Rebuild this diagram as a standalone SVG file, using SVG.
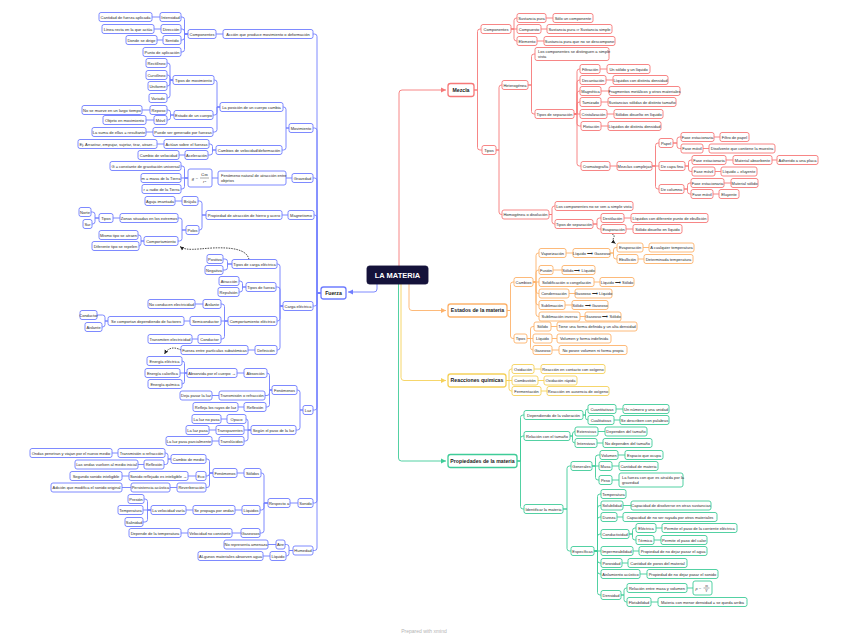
<svg xmlns="http://www.w3.org/2000/svg" width="848" height="638" viewBox="0 0 848 638">
<defs>
<style>
text{font-family:"Liberation Sans",Arial,sans-serif;font-size:4px;fill:#2a2a2a;text-anchor:middle}
text.l{text-anchor:start}
rect{fill:#fff;stroke-width:0.9}
.b rect{stroke:#6f7dff}
.r rect{stroke:#f67878}
.o rect{stroke:#fdb26b}
.y rect{stroke:#f5d15a}
.g rect{stroke:#3fcc98}
.m rect{stroke-width:1.3}
.m text{font-weight:bold;font-size:5.2px;fill:#1a1a1a}
#center rect{fill:#14123a;stroke:#14123a}
#center text{fill:#fff;font-weight:bold;font-size:7.5px}
.cb{fill:none;stroke:#6f7dff;stroke-width:0.9}
.cr{fill:none;stroke:#f67878;stroke-width:0.9}
.co{fill:none;stroke:#fdb26b;stroke-width:0.9}
.cy{fill:none;stroke:#f5d15a;stroke-width:0.9}
.cg{fill:none;stroke:#3fcc98;stroke-width:0.9}
.dash{fill:none;stroke:#222;stroke-width:0.8;stroke-dasharray:1.6 1}
.fl{stroke:#2a2a2a;stroke-width:0.4}
</style>
<marker id="ab" markerUnits="userSpaceOnUse" markerWidth="6" markerHeight="6" refX="5" refY="3" orient="auto"><path d="M0,0.5L5,3L0,5.5z" fill="#6f7dff"/></marker>
<marker id="ar" markerUnits="userSpaceOnUse" markerWidth="6" markerHeight="6" refX="5" refY="3" orient="auto"><path d="M0,0.5L5,3L0,5.5z" fill="#f67878"/></marker>
<marker id="ao" markerUnits="userSpaceOnUse" markerWidth="6" markerHeight="6" refX="5" refY="3" orient="auto"><path d="M0,0.5L5,3L0,5.5z" fill="#fdb26b"/></marker>
<marker id="ay" markerUnits="userSpaceOnUse" markerWidth="6" markerHeight="6" refX="5" refY="3" orient="auto"><path d="M0,0.5L5,3L0,5.5z" fill="#f5d15a"/></marker>
<marker id="ag" markerUnits="userSpaceOnUse" markerWidth="6" markerHeight="6" refX="5" refY="3" orient="auto"><path d="M0,0.5L5,3L0,5.5z" fill="#3fcc98"/></marker>
<marker id="ak" markerUnits="userSpaceOnUse" markerWidth="5" markerHeight="5" refX="4" refY="2.5" orient="auto"><path d="M0,0.5L4,2.5L0,4.5z" fill="#222"/></marker>
</defs>

<g id="connectors">
<path class="cb" d="M377 284V289Q377 292 374 292H348" marker-end="url(#ab)"/>
<path class="cr" d="M399 266V93Q399 90 402 90H446" marker-end="url(#ar)"/>
<path class="co" d="M409 284V307.5Q409 310.5 412 310.5H446" marker-end="url(#ao)"/>
<path class="cy" d="M401 284V377.5Q401 380.5 404 380.5H446" marker-end="url(#ay)"/>
<path class="cg" d="M398.5 284V458Q398.5 461 401.5 461H446" marker-end="url(#ag)"/>

<path class="cb" d="M321 293H317V36.5Q317 34 314.5 34H313M321 293H317V130.5Q317 128 314.5 128H313M321 293H317V180.5Q317 178 314.5 178H313M321 293H317V217.5Q317 215 314.5 215H314M321 293H317V303.5Q317 306 314.5 306H313M321 293H317V407.5Q317 410 314.5 410H313M321 293H317V500.5Q317 503 314.5 503H313M321 293H317V548Q317 550.5 314.5 550.5H313
M223 34H216M188 34H184.5V19.5Q184.5 17 182 17H181M188 34H184.5V31.5Q184.5 29 182 29H181M188 34H184.5V37.5Q184.5 40 182 40H181M188 34H184.5V49.5Q184.5 52 182 52H181M160 17H152M161 29H154M163 40H157
M289 128H286V109.5Q286 107 283.5 107H283M289 128H286V147.5Q286 150 283.5 150H282
M220 107H217V82.5Q217 80 214.5 80H214M220 107H217V112.5Q217 115 214.5 115H213M220 107H217V129.5Q217 132 214.5 132H213
M173 80H170V65.5Q170 63 167.5 63H167M173 80H170V77.5Q170 75 167.5 75H167M173 80H170V83.5Q170 86 167.5 86H167M173 80H170V95.5Q170 98 167.5 98H167
M174 115H170.5V112.5Q170.5 110 168 110H167M174 115H170.5V117.5Q170.5 120 168 120H167M150 110H142M154 120H146M153 132H146
M216 150H212.5V146.5Q212.5 144 210 144H209M216 150H212.5V152.5Q212.5 155 210 155H208M164 144H157M185 155H179
M292 178H286M218 178H212M188 178H184.5V168.5Q184.5 166 182 166H181M188 178H181M188 178H184.5V186.5Q184.5 189 182 189H181
M288 215H282M206 215H202V203.5Q202 201 199.5 201H198M206 215H202V227.5Q202 230 199.5 230H199M182 201H175
M186 230H182V220.5Q182 218 179.5 218H178M186 230H182V238.5Q182 241 179.5 241H178M120 218H113
M99 218H95V214.5Q95 212 92.5 212H91M99 218H95V221.5Q95 224 92.5 224H92
M144 241H141V237.5Q141 235 138.5 235H138M144 241H141V243.5Q141 246 139 246
M283 306H280V266.5Q280 264 277.5 264H277M283 306H280V289.5Q280 287 277.5 287H276M283 306H280V318.5Q280 321 277.5 321H277M283 306H280V347.5Q280 350 277.5 350H277
M232 264H227.5V261.5Q227.5 259 225 259H223M232 264H227.5V267.5Q227.5 270 225 270H223
M246 287H242.5V283.5Q242.5 281 240 281H239M246 287H242.5V289.5Q242.5 292 240 292H239
M228 321H224.5V306.5Q224.5 304 222 304H221M228 321H221M228 321H224.5V336.5Q224.5 339 222 339H221M203 304H195M190 321H184M198 339H192
M108 321H105V317.5Q105 315 102.5 315H97M108 321H105V324.5Q105 327 102.5 327H102M255 350H248
M303 410H300V392.5Q300 390 297.5 390H297M303 410H300V427.5Q300 430 297.5 430H296
M272 390H269.5V375.5Q269.5 373 267 373M272 390H269.5V393Q269.5 395.5 267 395.5H265M272 390H269.5V404.5Q269.5 407 267 407H266M244 373H237
M187 373H184.5V363.5Q184.5 361 182 361M187 373H180M187 373H184.5V381.5Q184.5 384 182 384M219 395.5H212M244 407H238
M251 430H248V421.5Q248 419 246 419M251 430H244M251 430H248V438.5Q248 441 245.5 441H244M227 419H221M216 430H209M219 441H212
M298 503H290M268 503H264V475.5Q264 473 261.5 473H261M268 503H264V507.5Q264 510 261.5 510H260M268 503H264V530.5Q264 533 261.5 533H260M244 473H237
M213 473H209.5V461.5Q209.5 459 207 459H206M213 473H209.5V473.5Q209.5 476 207 476H206M213 473H209.5V485Q209.5 487.5 207 487.5H206
M171 459H168V455.5Q168 453 165.5 453H165M171 459H168V462Q168 464.5 165.5 464.5H164M118 453H112M144 464.5H138
M196 476H188M129 476H122M177 487.5H170M131 487.5H122M242 510H235M193 510H186
M151 510H147.5V501.5Q147.5 499 145 499H144M151 510H143M151 510H147.5V519.5Q147.5 522 145 522H143
M241 533H232M188 533H181
M293 550.5H289V547Q289 544.5 286.5 544.5H285M293 550.5H289V553.5Q289 556 286.5 556H286M276 544.5H268M270 556H263"/>

<path class="cr" d="M474 90H477.5V31.5Q477.5 29 480 29H481M474 90H477.5V147.5Q477.5 150 480 150H482
M511 29H514V20.5Q514 18 516.5 18H517M511 29H517M511 29H514V38.5Q514 41 516.5 41H517M546 18H553M541 29H547M537 41H544
M496 150H499V87.5Q499 85 501.5 85H502M496 150H499V212Q499 214.5 501.5 214.5H502
M528 85H531.5V56.5Q531.5 54 534 54H535M528 85H531.5V111.5Q531.5 114 534 114H535
M574 114H577V71.5Q577 69 579.5 69H580M574 114H577V82.5Q577 80 579.5 80H580M574 114H577V93.5Q577 91 579.5 91H580M574 114H577V104.5Q577 102 579.5 102H580M574 114H580M574 114H577V123.5Q577 126 579.5 126H581M574 114H577V163.5Q577 166 579.5 166H581
M600 69H607M606 80H613M601 91H609M601 102H608M607 114H614M601 126H608M610 166H617
M652 166H655.5V145.5Q655.5 143 658 143H659M652 166H659M652 166H655.5V186.5Q655.5 189 658 189H659
M673 143H677V139.5Q677 137 679.5 137H681M673 143H677V146Q677 148.5 679.5 148.5H681M714 137H720M703 148.5H709
M685 166H688.5V162.5Q688.5 160 691 160H692M685 166H688.5V169Q688.5 171.5 691 171.5H692M726 160H733M772 160H777M715 171.5H721
M684 189H687.5V185.5Q687.5 183 690 183H691M684 189H687.5V191.5Q687.5 194 690 194H691M724 183H731M713 194H719
M549 214.5H552V208.5Q552 206 554.5 206H555M549 214.5H552V221.5Q552 224 554.5 224H555
M593 224H597V220.5Q597 218 599.5 218H601M593 224H597V226.5Q597 229 599.5 229H601M624 218H631M626 229H633"/>

<path class="co" d="M507 310.5H510.5V284.5Q510.5 282 513 282H514M507 310.5H510.5V336Q510.5 338.5 513 338.5H514
M533 282H536V255.5Q536 253 538.5 253H539M533 282H536V272.5Q536 270 538.5 270H539M533 282H539M533 282H536V291Q536 293.5 538.5 293.5H539M533 282H536V302.5Q536 305 538.5 305H539M533 282H536V314Q536 316.5 538.5 316.5H539
M566 253H573M553 270H562M594 282H600M569 293.5H575M565 305H572M580 316.5H585
M610 253H613.5V250Q613.5 247.5 616 247.5H617M610 253H613.5V256.5Q613.5 259 616 259H617M643 247.5H649M638 259H644
M527 338.5H530.5V329Q530.5 326.5 533 326.5H534M527 338.5H533M527 338.5H530.5V347.5Q530.5 350 533 350
M551 326.5H557M552 338.5H557M552 350H559"/>

<path class="cy" d="M506 380.5H509V371.5Q509 369 511.5 369H512M506 380.5H512M506 380.5H509V388.5Q509 391 511.5 391H512M534 369H541M538 380.5H544M541 391H547"/>

<path class="cg" d="M517 461H520.5V417.5Q520.5 415 523 415H524M517 461H520.5V438.5Q520.5 436 523 436H524M517 461H520.5V506.5Q520.5 509 523 509H524
M583 415H585.5V411.5Q585.5 409 588 409M583 415H585.5V417.5Q585.5 420 588 420M616 409H623M614 420H620
M570 436H572.5V434Q572.5 431.5 575 431.5M570 436H572.5V440.5Q572.5 443 575 443M598 431.5H605M597 443H603
M563 509H567V468.5Q567 466 569.5 466H571M563 509H567V548.5Q567 551 569.5 551H571
M592 466H595.5V457.5Q595.5 455 598 455H600M592 466H599M592 466H595.5V477.5Q595.5 480 598 480H599M618 455H625M612 466H619M612 480H619
M594 551H597.5V496.5Q597.5 494 600 494H601M594 551H597.5V508Q597.5 505.5 600 505.5H601M594 551H597.5V519.5Q597.5 517 600 517H601M594 551H597.5V536.5Q597.5 534 600 534H601M594 551H601M594 551H597.5V560.5Q597.5 563 600 563H601M594 551H597.5V571.5Q597.5 574 600 574H601M594 551H597.5V592.5Q597.5 595 600 595H601
M623 505.5H631M617 517H623M633 551H639M622 563H628M640 574H647
M629 534H632.5V530.5Q632.5 528 635 528H636M629 534H632.5V537.5Q632.5 540 635 540H636M656 528H662M654 540H661
M621 595H624V590.5Q624 588 626.5 588H627M621 595H624V599.5Q624 602 626.5 602H627M687 588H693M651 602H658"/>

<path class="dash" d="M249 259.5C247 250 234 247 212 248C196 249 186 251 180 246.5" marker-end="url(#ak)"/>
<path class="dash" d="M181 350C176 347.5 169 346 164.5 354" marker-end="url(#ak)"/>
<path class="dash" d="M612 234C618 236 609 239 615.5 243.5" marker-end="url(#ak)"/>
</g>

<g id="center"><rect x="367" y="266" width="61" height="18" rx="2.5"/><text x="397.5" y="277.8">LA MATERIA</text></g>

<g id="fuerza" class="b m"><rect x="321" y="287" width="25" height="12" rx="2.5"/><text x="333.5" y="294.8">Fuerza</text></g>
<g id="b01" class="b"><rect x="223" y="29.5" width="90" height="9" rx="2"/><text x="268" y="35.5">Acción que produce movimiento o deformación</text></g>
<g id="b02" class="b"><rect x="188" y="29.5" width="28" height="9" rx="2"/><text x="202" y="35.5">Componentes</text></g>
<g id="b03" class="b"><rect x="160" y="12.5" width="21" height="9" rx="2"/><text x="170.5" y="18.5">Intensidad</text></g>
<g id="b04" class="b"><rect x="99" y="12.5" width="53" height="9" rx="2"/><text x="125.5" y="18.5">Cantidad de fuerza aplicada</text></g>
<g id="b05" class="b"><rect x="161" y="24.5" width="20" height="9" rx="2"/><text x="171" y="30.5">Dirección</text></g>
<g id="b06" class="b"><rect x="102" y="24.5" width="52" height="9" rx="2"/><text x="128" y="30.5">Línea recta en la que actúa</text></g>
<g id="b07" class="b"><rect x="163" y="35.5" width="18" height="9" rx="2"/><text x="172" y="41.5">Sentido</text></g>
<g id="b08" class="b"><rect x="126" y="35.5" width="31" height="9" rx="2"/><text x="141.5" y="41.5">Donde se dirige</text></g>
<g id="b09" class="b"><rect x="143" y="47.5" width="38" height="9" rx="2"/><text x="162" y="53.5">Punto de aplicación</text></g>
<g id="b10" class="b"><rect x="289" y="123.5" width="24" height="9" rx="2"/><text x="301" y="129.5">Movimiento</text></g>
<g id="b11" class="b"><rect x="220" y="102.5" width="63" height="9" rx="2"/><text x="251.5" y="108.5">La posición de un cuerpo cambia</text></g>
<g id="b12" class="b"><rect x="173" y="75.5" width="41" height="9" rx="2"/><text x="193.5" y="81.5">Tipos de movimiento</text></g>
<g id="b13" class="b"><rect x="146" y="58.5" width="21" height="9" rx="2"/><text x="156.5" y="64.5">Rectilíneo</text></g>
<g id="b14" class="b"><rect x="146" y="70.5" width="21" height="9" rx="2"/><text x="156.5" y="76.5">Curvilíneo</text></g>
<g id="b15" class="b"><rect x="148" y="81.5" width="19" height="9" rx="2"/><text x="157.5" y="87.5">Uniforme</text></g>
<g id="b16" class="b"><rect x="149" y="93.5" width="18" height="9" rx="2"/><text x="158" y="99.5">Variado</text></g>
<g id="b17" class="b"><rect x="174" y="110.5" width="39" height="9" rx="2"/><text x="193.5" y="116.5">Estado de un cuerpo</text></g>
<g id="b18" class="b"><rect x="150" y="105.5" width="17" height="9" rx="2"/><text x="158.5" y="111.5">Reposo</text></g>
<g id="b19" class="b"><rect x="82" y="105.5" width="60" height="9" rx="2"/><text x="112" y="111.5">No se mueve en un largo tiempo</text></g>
<g id="b20" class="b"><rect x="154" y="115.5" width="13" height="9" rx="2"/><text x="160.5" y="121.5">Móvil</text></g>
<g id="b21" class="b"><rect x="103" y="115.5" width="43" height="9" rx="2"/><text x="124.5" y="121.5">Objeto en movimiento</text></g>
<g id="b22" class="b"><rect x="153" y="127.5" width="60" height="9" rx="2"/><text x="183" y="133.5">Puede ser generado por fuerzas</text></g>
<g id="b23" class="b"><rect x="92" y="127.5" width="54" height="9" rx="2"/><text x="119" y="133.5">La suma de ellas = resultante</text></g>
<g id="b24" class="b"><rect x="216" y="145.5" width="66" height="9" rx="2"/><text x="249" y="151.5">Cambios de velocidad/deformación</text></g>
<g id="b25" class="b"><rect x="164" y="139.5" width="45" height="9" rx="2"/><text x="186.5" y="145.5">Actúan sobre el fuerzas</text></g>
<g id="b26" class="b"><rect x="78" y="139.5" width="79" height="9" rx="2"/><text x="117.5" y="145.5">Ej. Arrastrar, empujar, sujetar, tirar, atraer...</text></g>
<g id="b27" class="b"><rect x="185" y="150.5" width="23" height="9" rx="2"/><text x="196.5" y="156.5">Aceleración</text></g>
<g id="b28" class="b"><rect x="138" y="150.5" width="41" height="9" rx="2"/><text x="158.5" y="156.5">Cambio de velocidad</text></g>
<g id="b29" class="b"><rect x="292" y="173.5" width="21" height="9" rx="2"/><text x="302.5" y="179.5">Gravedad</text></g>
<g id="b30" class="b"><rect x="218" y="171" width="68" height="14" rx="2"/><text class="l" x="221" y="176.8">Fenómeno natural de atracción entre</text><text class="l" x="221" y="182.3">objetos</text></g>
<g id="b31" class="b"><rect x="188" y="169" width="24" height="18" rx="2"/><text x="195" y="179.8" style="font-size:4.6px;font-style:italic;font-family:'Liberation Serif',serif">g =</text><text x="204.5" y="176.4" style="font-size:4.2px;font-family:'Liberation Serif',serif">Gm</text><line class="fl" x1="200" y1="178" x2="209" y2="178"/><text x="204.5" y="183.2" style="font-size:4.2px;font-style:italic;font-family:'Liberation Serif',serif">r²</text></g>
<g id="b32" class="b"><rect x="110" y="161.5" width="71" height="9" rx="2"/><text x="145.5" y="167.5">G = constante de gravitación universal</text></g>
<g id="b33" class="b"><rect x="141" y="173.5" width="40" height="9" rx="2"/><text x="161" y="179.5">m = masa de la Tierra</text></g>
<g id="b34" class="b"><rect x="142" y="184.5" width="39" height="9" rx="2"/><text x="161.5" y="190.5">r = radio de la Tierra</text></g>
<g id="b35" class="b"><rect x="288" y="210.5" width="26" height="9" rx="2"/><text x="301" y="216.5">Magnetismo</text></g>
<g id="b36" class="b"><rect x="206" y="210.5" width="76" height="9" rx="2"/><text x="244" y="216.5">Propiedad de atracción de hierro y acero</text></g>
<g id="b37" class="b"><rect x="182" y="196.5" width="16" height="9" rx="2"/><text x="190" y="202.5">Brújula</text></g>
<g id="b38" class="b"><rect x="145" y="196.5" width="30" height="9" rx="2"/><text x="160" y="202.5">Aguja imantada</text></g>
<g id="b39" class="b"><rect x="186" y="225.5" width="13" height="9" rx="2"/><text x="192.5" y="231.5">Polos</text></g>
<g id="b40" class="b"><rect x="120" y="213.5" width="58" height="9" rx="2"/><text x="149" y="219.5">Zonas situadas en los extremos</text></g>
<g id="b41" class="b"><rect x="99" y="213.5" width="14" height="9" rx="2"/><text x="106" y="219.5">Tipos</text></g>
<g id="b42" class="b"><rect x="79" y="207.5" width="12" height="9" rx="2"/><text x="85" y="213.5">Norte</text></g>
<g id="b43" class="b"><rect x="83" y="219.5" width="9" height="9" rx="2"/><text x="87.5" y="225.5">Sur</text></g>
<g id="b44" class="b"><rect x="144" y="236.5" width="34" height="9" rx="2"/><text x="161" y="242.5">Comportamiento</text></g>
<g id="b45" class="b"><rect x="99" y="230.5" width="39" height="9" rx="2"/><text x="118.5" y="236.5">Mismo tipo se atraen</text></g>
<g id="b46" class="b"><rect x="92" y="241.5" width="47" height="9" rx="2"/><text x="115.5" y="247.5">Diferente tipo se repelen</text></g>
<g id="b47" class="b"><rect x="283" y="301.5" width="30" height="9" rx="2"/><text x="298" y="307.5">Carga eléctrica</text></g>
<g id="b48" class="b"><rect x="232" y="259.5" width="45" height="9" rx="2"/><text x="254.5" y="265.5">Tipos de carga eléctrica</text></g>
<g id="b49" class="b"><rect x="207" y="254.5" width="16" height="9" rx="2"/><text x="215" y="260.5">Positiva</text></g>
<g id="b50" class="b"><rect x="205" y="265.5" width="18" height="9" rx="2"/><text x="214" y="271.5">Negativa</text></g>
<g id="b51" class="b"><rect x="246" y="282.5" width="30" height="9" rx="2"/><text x="261" y="288.5">Tipos de fuerza</text></g>
<g id="b52" class="b"><rect x="219" y="276.5" width="20" height="9" rx="2"/><text x="229" y="282.5">Atracción</text></g>
<g id="b53" class="b"><rect x="218" y="287.5" width="21" height="9" rx="2"/><text x="228.5" y="293.5">Repulsión</text></g>
<g id="b54" class="b"><rect x="228" y="316.5" width="49" height="9" rx="2"/><text x="252.5" y="322.5">Comportamiento eléctrico</text></g>
<g id="b55" class="b"><rect x="203" y="299.5" width="18" height="9" rx="2"/><text x="212" y="305.5">Aislante</text></g>
<g id="b56" class="b"><rect x="148" y="299.5" width="47" height="9" rx="2"/><text x="171.5" y="305.5">No conducen electricidad</text></g>
<g id="b57" class="b"><rect x="190" y="316.5" width="31" height="9" rx="2"/><text x="205.5" y="322.5">Semiconductor</text></g>
<g id="b58" class="b"><rect x="108" y="316.5" width="76" height="9" rx="2"/><text x="146" y="322.5">Se comportan dependiendo de factores</text></g>
<g id="b59" class="b"><rect x="80" y="310.5" width="17" height="9" rx="2"/><text x="88.5" y="316.5">Conductor</text></g>
<g id="b60" class="b"><rect x="85" y="322.5" width="17" height="9" rx="2"/><text x="93.5" y="328.5">Aislante</text></g>
<g id="b61" class="b"><rect x="198" y="334.5" width="23" height="9" rx="2"/><text x="209.5" y="340.5">Conductor</text></g>
<g id="b62" class="b"><rect x="148" y="334.5" width="44" height="9" rx="2"/><text x="170" y="340.5">Transmiten electricidad</text></g>
<g id="b63" class="b"><rect x="255" y="345.5" width="22" height="9" rx="2"/><text x="266" y="351.5">Definición</text></g>
<g id="b64" class="b"><rect x="181" y="345.5" width="67" height="9" rx="2"/><text x="214.5" y="351.5">Fuerza entre partículas subatómicas</text></g>
<g id="b65" class="b"><rect x="303" y="405.5" width="10" height="9" rx="2"/><text x="308" y="411.5">Luz</text></g>
<g id="b66" class="b"><rect x="272" y="385.5" width="25" height="9" rx="2"/><text x="284.5" y="391.5">Fenómenos</text></g>
<g id="b67" class="b"><rect x="244" y="368.5" width="23" height="9" rx="2"/><text x="255.5" y="374.5">Absorción</text></g>
<g id="b68" class="b"><rect x="187" y="368.5" width="50" height="9" rx="2"/><text x="212" y="374.5">Absorvida por el cuerpo →</text></g>
<g id="b69" class="b"><rect x="147" y="356.5" width="35" height="9" rx="2"/><text x="164.5" y="362.5">Energía eléctrica</text></g>
<g id="b70" class="b"><rect x="145" y="368.5" width="35" height="9" rx="2"/><text x="162.5" y="374.5">Energía calorífica</text></g>
<g id="b71" class="b"><rect x="148" y="379.5" width="34" height="9" rx="2"/><text x="165" y="385.5">Energía química</text></g>
<g id="b72" class="b"><rect x="219" y="391" width="46" height="9" rx="2"/><text x="242" y="397">Transmisión o refracción</text></g>
<g id="b73" class="b"><rect x="180" y="391" width="32" height="9" rx="2"/><text x="196" y="397">Deja pasar la luz</text></g>
<g id="b74" class="b"><rect x="244" y="402.5" width="22" height="9" rx="2"/><text x="255" y="408.5">Reflexión</text></g>
<g id="b75" class="b"><rect x="193" y="402.5" width="45" height="9" rx="2"/><text x="215.5" y="408.5">Refleja los rayos de luz</text></g>
<g id="b76" class="b"><rect x="251" y="425.5" width="45" height="9" rx="2"/><text x="273.5" y="431.5">Según el paso de la luz</text></g>
<g id="b77" class="b"><rect x="227" y="414.5" width="19" height="9" rx="2"/><text x="236.5" y="420.5">Opaco</text></g>
<g id="b78" class="b"><rect x="192" y="414.5" width="29" height="9" rx="2"/><text x="206.5" y="420.5">La luz no pasa</text></g>
<g id="b79" class="b"><rect x="216" y="425.5" width="28" height="9" rx="2"/><text x="230" y="431.5">Transparentes</text></g>
<g id="b80" class="b"><rect x="186" y="425.5" width="23" height="9" rx="2"/><text x="197.5" y="431.5">La luz pasa</text></g>
<g id="b81" class="b"><rect x="219" y="436.5" width="25" height="9" rx="2"/><text x="231.5" y="442.5">Translúcidos</text></g>
<g id="b82" class="b"><rect x="166" y="436.5" width="46" height="9" rx="2"/><text x="189" y="442.5">La luz pasa parcialmente</text></g>
<g id="b83" class="b"><rect x="298" y="498.5" width="15" height="9" rx="2"/><text x="305.5" y="504.5">Sonido</text></g>
<g id="b84" class="b"><rect x="268" y="498.5" width="22" height="9" rx="2"/><text x="279" y="504.5">Respecto a</text></g>
<g id="b85" class="b"><rect x="244" y="468.5" width="17" height="9" rx="2"/><text x="252.5" y="474.5">Sólidos</text></g>
<g id="b86" class="b"><rect x="213" y="468.5" width="24" height="9" rx="2"/><text x="225" y="474.5">Fenómenos</text></g>
<g id="b87" class="b"><rect x="171" y="454.5" width="35" height="9" rx="2"/><text x="188.5" y="460.5">Cambio de medio</text></g>
<g id="b88" class="b"><rect x="118" y="448.5" width="47" height="9" rx="2"/><text x="141.5" y="454.5">Transmisión o refracción</text></g>
<g id="b89" class="b"><rect x="30" y="448.5" width="82" height="9" rx="2"/><text x="71" y="454.5">Ondas penetran y viajan por el nuevo medio</text></g>
<g id="b90" class="b"><rect x="144" y="460" width="20" height="9" rx="2"/><text x="154" y="466">Reflexión</text></g>
<g id="b91" class="b"><rect x="75" y="460" width="63" height="9" rx="2"/><text x="106.5" y="466">Las ondas vuelven al medio inicial</text></g>
<g id="b92" class="b"><rect x="196" y="471.5" width="10" height="9" rx="2"/><text x="201" y="477.5">Eco</text></g>
<g id="b93" class="b"><rect x="129" y="471.5" width="59" height="9" rx="2"/><text x="158.5" y="477.5">Sonido reflejado es inteligible →</text></g>
<g id="b94" class="b"><rect x="70" y="471.5" width="52" height="9" rx="2"/><text x="96" y="477.5">Segundo sonido inteligible</text></g>
<g id="b95" class="b"><rect x="177" y="483" width="29" height="9" rx="2"/><text x="191.5" y="489">Reverberación</text></g>
<g id="b96" class="b"><rect x="131" y="483" width="39" height="9" rx="2"/><text x="150.5" y="489">Persistencia acústica</text></g>
<g id="b97" class="b"><rect x="51" y="483" width="71" height="9" rx="2"/><text x="86.5" y="489">Adición que modifica el sonido original</text></g>
<g id="b98" class="b"><rect x="242" y="505.5" width="18" height="9" rx="2"/><text x="251" y="511.5">Líquidos</text></g>
<g id="b99" class="b"><rect x="193" y="505.5" width="42" height="9" rx="2"/><text x="214" y="511.5">Se propaga por ondas</text></g>
<g id="b100" class="b"><rect x="151" y="505.5" width="35" height="9" rx="2"/><text x="168.5" y="511.5">La velocidad varía</text></g>
<g id="b101" class="b"><rect x="128" y="494.5" width="16" height="9" rx="2"/><text x="136" y="500.5">Presión</text></g>
<g id="b102" class="b"><rect x="118" y="505.5" width="25" height="9" rx="2"/><text x="130.5" y="511.5">Temperatura</text></g>
<g id="b103" class="b"><rect x="125" y="517.5" width="18" height="9" rx="2"/><text x="134" y="523.5">Salinidad</text></g>
<g id="b104" class="b"><rect x="241" y="528.5" width="19" height="9" rx="2"/><text x="250.5" y="534.5">Gaseosos</text></g>
<g id="b105" class="b"><rect x="188" y="528.5" width="44" height="9" rx="2"/><text x="210" y="534.5">Velocidad no constante</text></g>
<g id="b106" class="b"><rect x="129" y="528.5" width="52" height="9" rx="2"/><text x="155" y="534.5">Depende de la temperatura</text></g>
<g id="b107" class="b"><rect x="293" y="546" width="20" height="9" rx="2"/><text x="303" y="552">Humedad</text></g>
<g id="b108" class="b"><rect x="276" y="540" width="9" height="9" rx="2"/><text x="280.5" y="546">Aire</text></g>
<g id="b109" class="b"><rect x="224" y="540" width="44" height="9" rx="2"/><text x="246" y="546">No representa amenaza</text></g>
<g id="b110" class="b"><rect x="270" y="551.5" width="16" height="9" rx="2"/><text x="278" y="557.5">Líquido</text></g>
<g id="b111" class="b"><rect x="198" y="551.5" width="65" height="9" rx="2"/><text x="230.5" y="557.5">ALgunos materiales absorven agua</text></g>

<g id="mezcla" class="r m"><rect x="448" y="83.5" width="26" height="13" rx="2.5"/><text x="461" y="91.8">Mezcla</text></g>
<g id="r01" class="r"><rect x="481" y="24.5" width="30" height="9" rx="2"/><text x="496" y="30.5">Componentes</text></g>
<g id="r02" class="r"><rect x="517" y="13.5" width="29" height="9" rx="2"/><text x="531.5" y="19.5">Sustancia pura</text></g>
<g id="r03" class="r"><rect x="553" y="13.5" width="40" height="9" rx="2"/><text x="573" y="19.5">Sólo un componente</text></g>
<g id="r04" class="r"><rect x="517" y="24.5" width="24" height="9" rx="2"/><text x="529" y="30.5">Compuesto</text></g>
<g id="r05" class="r"><rect x="547" y="24.5" width="65" height="9" rx="2"/><text x="579.5" y="30.5">Sustancia pura ⇒ Sustancia simple</text></g>
<g id="r06" class="r"><rect x="517" y="36.5" width="20" height="9" rx="2"/><text x="527" y="42.5">Elemento</text></g>
<g id="r07" class="r"><rect x="544" y="36.5" width="71" height="9" rx="2"/><text x="579.5" y="42.5">Sustancia pura que no se descompone</text></g>
<g id="r08" class="r"><rect x="482" y="145.5" width="14" height="9" rx="2"/><text x="489" y="151.5">Tipos</text></g>
<g id="r09" class="r"><rect x="502" y="80.5" width="26" height="9" rx="2"/><text x="515" y="86.5">Heterogénea</text></g>
<g id="r10" class="r"><rect x="535" y="47.5" width="74" height="13" rx="2"/><text class="l" x="538" y="52.8">Los componentes se distinguen a simple</text><text class="l" x="538" y="58">vista</text></g>
<g id="r11" class="r"><rect x="535" y="109.5" width="39" height="9" rx="2"/><text x="554.5" y="115.5">Tipos de separación</text></g>
<g id="r12" class="r"><rect x="580" y="64.5" width="20" height="9" rx="2"/><text x="590" y="70.5">Filtración</text></g>
<g id="r13" class="r"><rect x="607" y="64.5" width="43" height="9" rx="2"/><text x="628.5" y="70.5">Un sólido y un líquido</text></g>
<g id="r14" class="r"><rect x="580" y="75.5" width="26" height="9" rx="2"/><text x="593" y="81.5">Decantación</text></g>
<g id="r15" class="r"><rect x="613" y="75.5" width="55" height="9" rx="2"/><text x="640.5" y="81.5">Líquidos con distinta densidad</text></g>
<g id="r16" class="r"><rect x="580" y="86.5" width="21" height="9" rx="2"/><text x="590.5" y="92.5">Magnética</text></g>
<g id="r17" class="r"><rect x="609" y="86.5" width="71" height="9" rx="2"/><text x="644.5" y="92.5">Fragmentos metálicos y otros materiales</text></g>
<g id="r18" class="r"><rect x="580" y="97.5" width="21" height="9" rx="2"/><text x="590.5" y="103.5">Tamizado</text></g>
<g id="r19" class="r"><rect x="608" y="97.5" width="68" height="9" rx="2"/><text x="642" y="103.5">Sustancias sólidas de distinto tamaño</text></g>
<g id="r20" class="r"><rect x="580" y="109.5" width="27" height="9" rx="2"/><text x="593.5" y="115.5">Cristalización</text></g>
<g id="r21" class="r"><rect x="614" y="109.5" width="49" height="9" rx="2"/><text x="638.5" y="115.5">Sólidos disuelto en líquido</text></g>
<g id="r22" class="r"><rect x="581" y="121.5" width="20" height="9" rx="2"/><text x="591" y="127.5">Flotación</text></g>
<g id="r23" class="r"><rect x="608" y="121.5" width="53" height="9" rx="2"/><text x="634.5" y="127.5">Líquidos de distinta densidad</text></g>
<g id="r24" class="r"><rect x="581" y="161.5" width="29" height="9" rx="2"/><text x="595.5" y="167.5">Cromatografía</text></g>
<g id="r25" class="r"><rect x="617" y="161.5" width="35" height="9" rx="2"/><text x="634.5" y="167.5">Mezclas complejas</text></g>
<g id="r26" class="r"><rect x="659" y="138.5" width="14" height="9" rx="2"/><text x="666" y="144.5">Papel</text></g>
<g id="r27" class="r"><rect x="681" y="132.5" width="33" height="9" rx="2"/><text x="697.5" y="138.5">Fase estacionaria</text></g>
<g id="r28" class="r"><rect x="720" y="132.5" width="29" height="9" rx="2"/><text x="734.5" y="138.5">Filtro de papel</text></g>
<g id="r29" class="r"><rect x="681" y="144" width="22" height="9" rx="2"/><text x="692" y="150">Fase móvil</text></g>
<g id="r30" class="r"><rect x="709" y="144" width="66" height="9" rx="2"/><text x="742" y="150">Disolvente que contiene la muestra</text></g>
<g id="r31" class="r"><rect x="659" y="161.5" width="26" height="9" rx="2"/><text x="672" y="167.5">De capa fina</text></g>
<g id="r32" class="r"><rect x="692" y="155.5" width="34" height="9" rx="2"/><text x="709" y="161.5">Fase estacionaria</text></g>
<g id="r33" class="r"><rect x="733" y="155.5" width="39" height="9" rx="2"/><text x="752.5" y="161.5">Material absorbente</text></g>
<g id="r34" class="r"><rect x="777" y="155.5" width="41" height="9" rx="2"/><text x="797.5" y="161.5">Adherido a una placa</text></g>
<g id="r35" class="r"><rect x="692" y="167" width="23" height="9" rx="2"/><text x="703.5" y="173">Fase móvil</text></g>
<g id="r36" class="r"><rect x="721" y="167" width="36" height="9" rx="2"/><text x="739" y="173">Líquido + eluyente</text></g>
<g id="r37" class="r"><rect x="659" y="184.5" width="25" height="9" rx="2"/><text x="671.5" y="190.5">De columna</text></g>
<g id="r38" class="r"><rect x="691" y="178.5" width="33" height="9" rx="2"/><text x="707.5" y="184.5">Fase estacionaria</text></g>
<g id="r39" class="r"><rect x="731" y="178.5" width="27" height="9" rx="2"/><text x="744.5" y="184.5">Material sólido</text></g>
<g id="r40" class="r"><rect x="691" y="189.5" width="22" height="9" rx="2"/><text x="702" y="195.5">Fase móvil</text></g>
<g id="r41" class="r"><rect x="719" y="189.5" width="20" height="9" rx="2"/><text x="729" y="195.5">Eluyente</text></g>
<g id="r42" class="r"><rect x="502" y="210" width="47" height="9" rx="2"/><text x="525.5" y="216">Homogénea o disolución</text></g>
<g id="r43" class="r"><rect x="555" y="201.5" width="78" height="9" rx="2"/><text x="594" y="207.5">Los componentes no se ven a simple vista</text></g>
<g id="r44" class="r"><rect x="555" y="219.5" width="38" height="9" rx="2"/><text x="574" y="225.5">Tipos de separación</text></g>
<g id="r45" class="r"><rect x="601" y="213.5" width="23" height="9" rx="2"/><text x="612.5" y="219.5">Destilación</text></g>
<g id="r46" class="r"><rect x="631" y="213.5" width="77" height="9" rx="2"/><text x="669.5" y="219.5">Líquidos con diferente punto de ebullición</text></g>
<g id="r47" class="r"><rect x="601" y="224.5" width="25" height="9" rx="2"/><text x="613.5" y="230.5">Evaporación</text></g>
<g id="r48" class="r"><rect x="633" y="224.5" width="49" height="9" rx="2"/><text x="657.5" y="230.5">Sólido disuelto en líquido</text></g>

<g id="estados" class="o m"><rect x="448" y="304" width="59" height="13" rx="2.5"/><text x="477.5" y="312.3">Estados de la materia</text></g>
<g id="o01" class="o"><rect x="514" y="277.5" width="19" height="9" rx="2"/><text x="523.5" y="283.5">Cambios</text></g>
<g id="o02" class="o"><rect x="539" y="248.5" width="27" height="9" rx="2"/><text x="552.5" y="254.5">Vaporización</text></g>
<g id="o03" class="o"><rect x="573" y="248.5" width="37" height="9" rx="2"/><text x="591.5" y="254.5">Líquido ⟶ Gaseoso</text></g>
<g id="o04" class="o"><rect x="617" y="243" width="26" height="9" rx="2"/><text x="630" y="249">Evaporación</text></g>
<g id="o05" class="o"><rect x="649" y="243" width="45" height="9" rx="2"/><text x="671.5" y="249">A cualquier temperatura</text></g>
<g id="o06" class="o"><rect x="617" y="254.5" width="21" height="9" rx="2"/><text x="627.5" y="260.5">Ebullición</text></g>
<g id="o07" class="o"><rect x="644" y="254.5" width="49" height="9" rx="2"/><text x="668.5" y="260.5">Determinada temperatura</text></g>
<g id="o08" class="o"><rect x="539" y="265.5" width="14" height="9" rx="2"/><text x="546" y="271.5">Fusión</text></g>
<g id="o09" class="o"><rect x="562" y="265.5" width="33" height="9" rx="2"/><text x="578.5" y="271.5">Sólido ⟶ Líquido</text></g>
<g id="o10" class="o"><rect x="539" y="277.5" width="55" height="9" rx="2"/><text x="566.5" y="283.5">Solidificación o congelación</text></g>
<g id="o11" class="o"><rect x="600" y="277.5" width="34" height="9" rx="2"/><text x="617" y="283.5">Líquido ⟶ Sólido</text></g>
<g id="o12" class="o"><rect x="539" y="289" width="30" height="9" rx="2"/><text x="554" y="295">Condensación</text></g>
<g id="o13" class="o"><rect x="575" y="289" width="37" height="9" rx="2"/><text x="593.5" y="295">Gaseoso ⟶ Líquido</text></g>
<g id="o14" class="o"><rect x="539" y="300.5" width="26" height="9" rx="2"/><text x="552" y="306.5">Sublimación</text></g>
<g id="o15" class="o"><rect x="572" y="300.5" width="36" height="9" rx="2"/><text x="590" y="306.5">Sólido ⟶ Gaseoso</text></g>
<g id="o16" class="o"><rect x="539" y="312" width="41" height="9" rx="2"/><text x="559.5" y="318">Sublimación inversa</text></g>
<g id="o17" class="o"><rect x="585" y="312" width="36" height="9" rx="2"/><text x="603" y="318">Gaseoso ⟶ Sólido</text></g>
<g id="o18" class="o"><rect x="514" y="334" width="13" height="9" rx="2"/><text x="520.5" y="340">Tipos</text></g>
<g id="o19" class="o"><rect x="534" y="322" width="17" height="9" rx="2"/><text x="542.5" y="328">Sólido</text></g>
<g id="o20" class="o"><rect x="557" y="322" width="80" height="9" rx="2"/><text x="597" y="328">Tiene una forma definida y un alta densidad</text></g>
<g id="o21" class="o"><rect x="533" y="334" width="19" height="9" rx="2"/><text x="542.5" y="340">Líquido</text></g>
<g id="o22" class="o"><rect x="557" y="334" width="54" height="9" rx="2"/><text x="584" y="340">Volumen y forma indefinida</text></g>
<g id="o23" class="o"><rect x="533" y="345.5" width="19" height="9" rx="2"/><text x="542.5" y="351.5">Gaseoso</text></g>
<g id="o24" class="o"><rect x="559" y="345.5" width="68" height="9" rx="2"/><text x="593" y="351.5">No posee volumen ni forma propia</text></g>

<g id="reacciones" class="y m"><rect x="448" y="374" width="58" height="13" rx="2.5"/><text x="477" y="382.3">Reacciones químicas</text></g>
<g id="y01" class="y"><rect x="512" y="364.5" width="22" height="9" rx="2"/><text x="523" y="370.5">Oxidación</text></g>
<g id="y02" class="y"><rect x="541" y="364.5" width="64" height="9" rx="2"/><text x="573" y="370.5">Reacción en contacto con oxígeno</text></g>
<g id="y03" class="y"><rect x="512" y="376" width="26" height="9" rx="2"/><text x="525" y="382">Combustión</text></g>
<g id="y04" class="y"><rect x="544" y="376" width="33" height="9" rx="2"/><text x="560.5" y="382">Oxidación rápida</text></g>
<g id="y05" class="y"><rect x="512" y="386.5" width="29" height="9" rx="2"/><text x="526.5" y="392.5">Fermentación</text></g>
<g id="y06" class="y"><rect x="547" y="386.5" width="62" height="9" rx="2"/><text x="578" y="392.5">Reacción en ausencia de oxígeno</text></g>

<g id="propiedades" class="g m"><rect x="448" y="454.5" width="69" height="13" rx="2.5"/><text x="482.5" y="462.8">Propiedades de la materia</text></g>
<g id="g01" class="g"><rect x="524" y="410.5" width="59" height="9" rx="2"/><text x="553.5" y="416.5">Dependiendo de la valoración</text></g>
<g id="g02" class="g"><rect x="588" y="404.5" width="28" height="9" rx="2"/><text x="602" y="410.5">Cuantitativas</text></g>
<g id="g03" class="g"><rect x="623" y="404.5" width="46" height="9" rx="2"/><text x="646" y="410.5">Un número y una unidad</text></g>
<g id="g04" class="g"><rect x="588" y="415.5" width="26" height="9" rx="2"/><text x="601" y="421.5">Cualitativas</text></g>
<g id="g05" class="g"><rect x="620" y="415.5" width="49" height="9" rx="2"/><text x="644.5" y="421.5">Se describen con palabras</text></g>
<g id="g06" class="g"><rect x="524" y="431.5" width="46" height="9" rx="2"/><text x="547" y="437.5">Relación con el tamaño</text></g>
<g id="g07" class="g"><rect x="575" y="427" width="23" height="9" rx="2"/><text x="586.5" y="433">Extensivas</text></g>
<g id="g08" class="g"><rect x="605" y="427" width="42" height="9" rx="2"/><text x="626" y="433">Dependen del tamaño</text></g>
<g id="g09" class="g"><rect x="575" y="438.5" width="22" height="9" rx="2"/><text x="586" y="444.5">Intensivas</text></g>
<g id="g10" class="g"><rect x="603" y="438.5" width="49" height="9" rx="2"/><text x="627.5" y="444.5">No dependen del tamaño</text></g>
<g id="g11" class="g"><rect x="524" y="504.5" width="39" height="9" rx="2"/><text x="543.5" y="510.5">Identificar la materia</text></g>
<g id="g12" class="g"><rect x="571" y="461.5" width="21" height="9" rx="2"/><text x="581.5" y="467.5">Generales</text></g>
<g id="g13" class="g"><rect x="600" y="450.5" width="18" height="9" rx="2"/><text x="609" y="456.5">Volumen</text></g>
<g id="g14" class="g"><rect x="625" y="450.5" width="38" height="9" rx="2"/><text x="644" y="456.5">Espacio que ocupa</text></g>
<g id="g15" class="g"><rect x="599" y="461.5" width="13" height="9" rx="2"/><text x="605.5" y="467.5">Masa</text></g>
<g id="g16" class="g"><rect x="619" y="461.5" width="39" height="9" rx="2"/><text x="638.5" y="467.5">Cantidad de materia</text></g>
<g id="g17" class="g"><rect x="599" y="475.5" width="13" height="9" rx="2"/><text x="605.5" y="481.5">Peso</text></g>
<g id="g18" class="g"><rect x="619" y="473" width="64" height="14" rx="2"/><text class="l" x="622" y="478.6">La fuerza con que es atraída por la</text><text class="l" x="622" y="484">gravedad</text></g>
<g id="g19" class="g"><rect x="571" y="546.5" width="23" height="9" rx="2"/><text x="582.5" y="552.5">Específicas</text></g>
<g id="g20" class="g"><rect x="601" y="489.5" width="25" height="9" rx="2"/><text x="613.5" y="495.5">Temperatura</text></g>
<g id="g21" class="g"><rect x="601" y="501" width="22" height="9" rx="2"/><text x="612" y="507">Solubilidad</text></g>
<g id="g22" class="g"><rect x="631" y="501" width="80" height="9" rx="2"/><text x="671" y="507">Capacidad de disolverse en otras sustancias</text></g>
<g id="g23" class="g"><rect x="601" y="512.5" width="16" height="9" rx="2"/><text x="609" y="518.5">Dureza</text></g>
<g id="g24" class="g"><rect x="623" y="512.5" width="94" height="9" rx="2"/><text x="670" y="518.5">Capacidad de no ser rayada por otros materiales</text></g>
<g id="g25" class="g"><rect x="601" y="529.5" width="28" height="9" rx="2"/><text x="615" y="535.5">Conductividad</text></g>
<g id="g26" class="g"><rect x="636" y="523.5" width="20" height="9" rx="2"/><text x="646" y="529.5">Eléctrica</text></g>
<g id="g27" class="g"><rect x="662" y="523.5" width="75" height="9" rx="2"/><text x="699.5" y="529.5">Permite el paso de la corriente eléctrica</text></g>
<g id="g28" class="g"><rect x="636" y="535.5" width="18" height="9" rx="2"/><text x="645" y="541.5">Térmica</text></g>
<g id="g29" class="g"><rect x="661" y="535.5" width="46" height="9" rx="2"/><text x="684" y="541.5">Permite el paso del calor</text></g>
<g id="g30" class="g"><rect x="601" y="546.5" width="32" height="9" rx="2"/><text x="617" y="552.5">Impermeabilidad</text></g>
<g id="g31" class="g"><rect x="639" y="546.5" width="68" height="9" rx="2"/><text x="673" y="552.5">Propiedad de no dejar pasar el agua</text></g>
<g id="g32" class="g"><rect x="601" y="558.5" width="21" height="9" rx="2"/><text x="611.5" y="564.5">Porosidad</text></g>
<g id="g33" class="g"><rect x="628" y="558.5" width="59" height="9" rx="2"/><text x="657.5" y="564.5">Cantidad de poros del material</text></g>
<g id="g34" class="g"><rect x="601" y="569.5" width="39" height="9" rx="2"/><text x="620.5" y="575.5">Aislamiento acústico</text></g>
<g id="g35" class="g"><rect x="647" y="569.5" width="71" height="9" rx="2"/><text x="682.5" y="575.5">Propiedad de no dejar pasar el sonido</text></g>
<g id="g36" class="g"><rect x="601" y="590.5" width="20" height="9" rx="2"/><text x="611" y="596.5">Densidad</text></g>
<g id="g37" class="g"><rect x="627" y="583.5" width="60" height="9" rx="2"/><text x="657" y="589.5">Relación entre masa y volumen</text></g>
<g id="g38" class="g"><rect x="693" y="581" width="19" height="14" rx="2"/><text x="698.5" y="589.5" style="font-size:4.4px;font-style:italic;font-family:'Liberation Serif',serif">ρ =</text><text x="706.5" y="586.6" style="font-size:3.8px;font-style:italic;font-family:'Liberation Serif',serif">m</text><line class="fl" x1="703.5" y1="588" x2="709.5" y2="588"/><text x="706.5" y="592.4" style="font-size:3.8px;font-style:italic;font-family:'Liberation Serif',serif">V</text></g>
<g id="g39" class="g"><rect x="627" y="597.5" width="24" height="9" rx="2"/><text x="639" y="603.5">Flotabilidad</text></g>
<g id="g40" class="g"><rect x="658" y="597.5" width="89" height="9" rx="2"/><text x="702.5" y="603.5">Materia con menor densidad = se queda arriba</text></g>

<text x="424" y="633" style="font-size:5px;fill:#b4b4b4">Prepared with xmind</text>
</svg>
